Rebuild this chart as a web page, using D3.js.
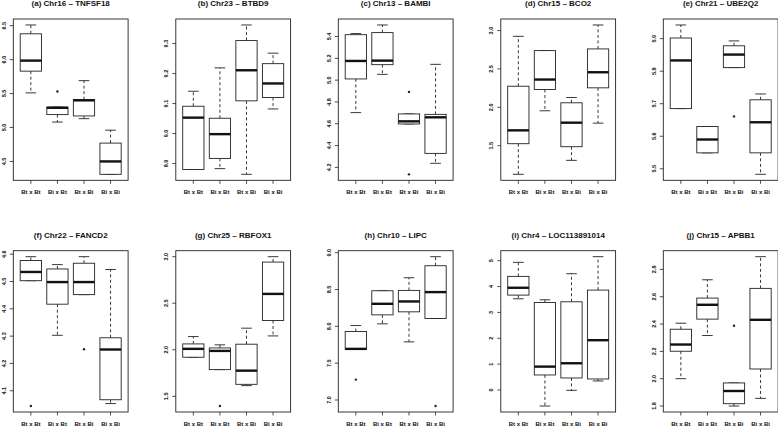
<!doctype html>
<meta charset="utf-8">
<title>Boxplots by cross</title>
<script src="https://cdn.jsdelivr.net/npm/d3@7/dist/d3.min.js"></script>
<style>
  body { margin: 0; background: #fff; }
  svg text { font-family: "Liberation Sans", Arial, sans-serif; fill: #111; }
</style>
<div id="chart"></div>
<script>
  const groups = ["Bt x Bt", "Bi x Bt", "Bt x Bi", "Bi x Bi"];

  const titles = [
    "(a) Chr16 \u2013 TNFSF18", "(b) Chr23 \u2013 BTBD9", "(c) Chr13 \u2013 BAMBI",
    "(d) Chr15 \u2013 BCO2", "(e) Chr21 \u2013 UBE2Q2", "(f) Chr22 \u2013 FANCD2",
    "(g) Chr25 \u2013 RBFOX1", "(h) Chr10 \u2013 LIPC", "(i) Chr4 \u2013 LOC113891014",
    "(j) Chr15 \u2013 APBB1"
  ];

  // each group: [lower whisker, Q1, median, Q3, upper whisker]
  const statsA = [[5.51, 5.83, 5.985, 6.38, 6.51], [5.08, 5.19, 5.29, 5.30, 5.30], [5.13, 5.17, 5.40, 5.41, 5.69], [4.31, 4.31, 4.50, 4.77, 4.96]];
  const statsB = [[8.88, 8.88, 9.053, 9.091, 9.141], [8.883, 8.917, 8.998, 9.051, 9.219], [8.864, 9.109, 9.211, 9.31, 9.362], [9.082, 9.12, 9.167, 9.233, 9.268]];
  const statsC = [[4.702, 5.011, 5.176, 5.417, 5.427], [5.053, 5.142, 5.179, 5.436, 5.506], [4.598, 4.598, 4.622, 4.69, 4.69], [4.237, 4.328, 4.659, 4.686, 5.145]];
  const statsD = [[1.127, 1.526, 1.70, 2.275, 2.925], [1.955, 2.232, 2.362, 2.739, 2.739], [1.309, 1.487, 1.80, 2.059, 2.128], [1.794, 2.254, 2.457, 2.761, 3.073]];
  const statsE = [[5.685, 5.685, 5.833, 5.902, 5.942], [5.549, 5.549, 5.590, 5.63, 5.63], [5.811, 5.811, 5.851, 5.878, 5.893], [5.483, 5.549, 5.643, 5.712, 5.730]];
  const statsF = [[4.503, 4.503, 4.535, 4.577, 4.591], [4.303, 4.417, 4.498, 4.546, 4.562], [4.452, 4.452, 4.498, 4.567, 4.591], [4.053, 4.067, 4.251, 4.294, 4.544]];
  const statsG = [[1.92, 1.92, 2.01, 2.063, 2.142], [1.787, 1.787, 1.988, 2.02, 2.053], [1.615, 1.629, 1.776, 2.06, 2.232], [2.149, 2.315, 2.60, 2.942, 3.0]];
  const statsH = [[7.689, 7.689, 7.694, 7.93, 8.011], [8.034, 8.156, 8.306, 8.483, 8.483], [7.789, 8.197, 8.338, 8.488, 8.66], [8.107, 8.107, 8.465, 8.823, 8.946]];
  const statsI = [[3.527, 3.669, 3.953, 4.393, 4.935], [-0.62, 0.581, 0.904, 3.385, 3.488], [-0.013, 0.465, 1.034, 3.411, 4.496], [0.349, 0.426, 1.925, 3.863, 5.155]];
  const statsJ = [[2.0, 2.201, 2.25, 2.362, 2.406], [2.316, 2.436, 2.541, 2.59, 2.724], [1.80, 1.817, 1.91, 1.969, 1.969], [1.856, 2.071, 2.431, 2.661, 2.893]];
  const allStats = [statsA, statsB, statsC, statsD, statsE, statsF, statsG, statsH, statsI, statsJ];

  // outliers per panel: [group index, value]
  const outliers = [
    [[1, 5.53]], [], [[2, 4.892], [2, 4.136]], [], [[2, 5.661]],
    [[0, 4.044], [2, 4.252]], [[1, 1.396]], [[0, 7.277], [3, 6.918]], [], [[2, 2.387]]
  ];

  const yTicks = [
    [4.5, 5.0, 5.5, 6.0, 6.5], [8.9, 9.0, 9.1, 9.2, 9.3], [4.2, 4.4, 4.6, 4.8, 5.0, 5.2, 5.4],
    [1.5, 2.0, 2.5, 3.0], [5.5, 5.6, 5.7, 5.8, 5.9], [4.1, 4.2, 4.3, 4.4, 4.5, 4.6],
    [1.5, 2.0, 2.5, 3.0], [7.0, 7.5, 8.0, 8.5, 9.0], [0, 1, 2, 3, 4, 5],
    [1.8, 2.0, 2.2, 2.4, 2.6, 2.8]
  ];

  const W = 778, H = 426;
  const panelX0 = 13.3, panelDX = 162.5, panelW = 114.8, panelH = 161.3;
  const rowY = [19, 250.7];

  const svg = d3.select('#chart').append('svg')
    .attr('width', W)
    .attr('height', H);

  allStats.forEach((stats, p) => {
    const px = panelX0 + (p % 5) * panelDX;
    const py = rowY[Math.floor(p / 5)];
    const g = svg.append('g').attr('transform', `translate(${px},${py})`);

    // R style range: data extent + 4% each side
    const vals = stats.flat().concat(outliers[p].map(d => d[1]));
    const lo = d3.min(vals), hi = d3.max(vals), pad = (hi - lo) * 0.04;
    const y = d3.scaleLinear().domain([lo - pad, hi + pad]).range([panelH, 0]);
    const x = d3.scaleLinear().domain([0.34, 4.66]).range([0, panelW]);
    const unit = x(1) - x(0);
    const boxW = unit * 0.8, capW = unit * 0.4;

    // title
    g.append('text')
      .attr('x', panelW / 2).attr('y', -15)
      .attr('text-anchor', 'middle').attr('dominant-baseline', 'middle')
      .attr('font-size', 8).attr('font-weight', 'bold')
      .text(titles[p]);

    // y axis
    const yAxis = g.append('g');
    yAxis.selectAll('line').data(yTicks[p]).enter().append('line')
      .attr('x1', -3.5).attr('x2', 0)
      .attr('y1', d => y(d)).attr('y2', d => y(d))
      .attr('stroke', '#222').attr('stroke-width', 0.8);
    yAxis.selectAll('text').data(yTicks[p]).enter().append('text')
      .attr('transform', d => `translate(-9,${y(d)}) rotate(-90)`)
      .attr('text-anchor', 'middle').attr('dominant-baseline', 'middle')
      .attr('font-size', 5.5).attr('font-weight', 'bold')
      .text(d => d3.format('.1f')(d).replace(/\.0$/, d => (yTicks[p].every(v => Number.isInteger(v)) ? '' : d)));

    // x axis
    const xAxis = g.append('g').attr('transform', `translate(0,${panelH})`);
    xAxis.selectAll('line').data(groups).enter().append('line')
      .attr('x1', (d, i) => x(i + 1)).attr('x2', (d, i) => x(i + 1))
      .attr('y1', 0).attr('y2', 3.5)
      .attr('stroke', '#222').attr('stroke-width', 0.8);
    xAxis.selectAll('text').data(groups).enter().append('text')
      .attr('x', (d, i) => x(i + 1)).attr('y', 12)
      .attr('text-anchor', 'middle').attr('dominant-baseline', 'middle')
      .attr('font-size', 6).attr('font-weight', 'bold')
      .text(d => d);

    // boxes
    const box = g.selectAll('g.box').data(stats).enter().append('g')
      .attr('class', 'box');
    const cx = (d, i) => x(i + 1);

    // whiskers
    box.append('line')
      .attr('x1', cx).attr('x2', cx)
      .attr('y1', d => y(d[3])).attr('y2', d => y(d[4]))
      .attr('stroke', '#222').attr('stroke-dasharray', '3,2.5').attr('stroke-width', 0.9);
    box.append('line')
      .attr('x1', cx).attr('x2', cx)
      .attr('y1', d => y(d[1])).attr('y2', d => y(d[0]))
      .attr('stroke', '#222').attr('stroke-dasharray', '3,2.5').attr('stroke-width', 0.9);
    // staples
    [0, 4].forEach(k => {
      box.append('line')
        .attr('x1', (d, i) => x(i + 1) - capW / 2).attr('x2', (d, i) => x(i + 1) + capW / 2)
        .attr('y1', d => y(d[k])).attr('y2', d => y(d[k]))
        .attr('stroke', '#222').attr('stroke-width', 0.9);
    });
    // box
    box.append('rect')
      .attr('x', (d, i) => x(i + 1) - boxW / 2)
      .attr('y', d => y(d[3]))
      .attr('width', boxW)
      .attr('height', d => y(d[1]) - y(d[3]))
      .attr('fill', '#fff').attr('stroke', '#222').attr('stroke-width', 0.9);
    // median
    box.append('line')
      .attr('x1', (d, i) => x(i + 1) - boxW / 2).attr('x2', (d, i) => x(i + 1) + boxW / 2)
      .attr('y1', d => y(d[2])).attr('y2', d => y(d[2]))
      .attr('stroke', '#111').attr('stroke-width', 2.4);

    // outliers
    g.selectAll('circle').data(outliers[p]).enter().append('circle')
      .attr('cx', d => x(d[0] + 1)).attr('cy', d => y(d[1]))
      .attr('r', 1.2).attr('fill', '#222');

    // frame
    g.append('rect')
      .attr('width', panelW).attr('height', panelH)
      .attr('fill', 'none').attr('stroke', '#222').attr('stroke-width', 0.9);
  });
</script>
